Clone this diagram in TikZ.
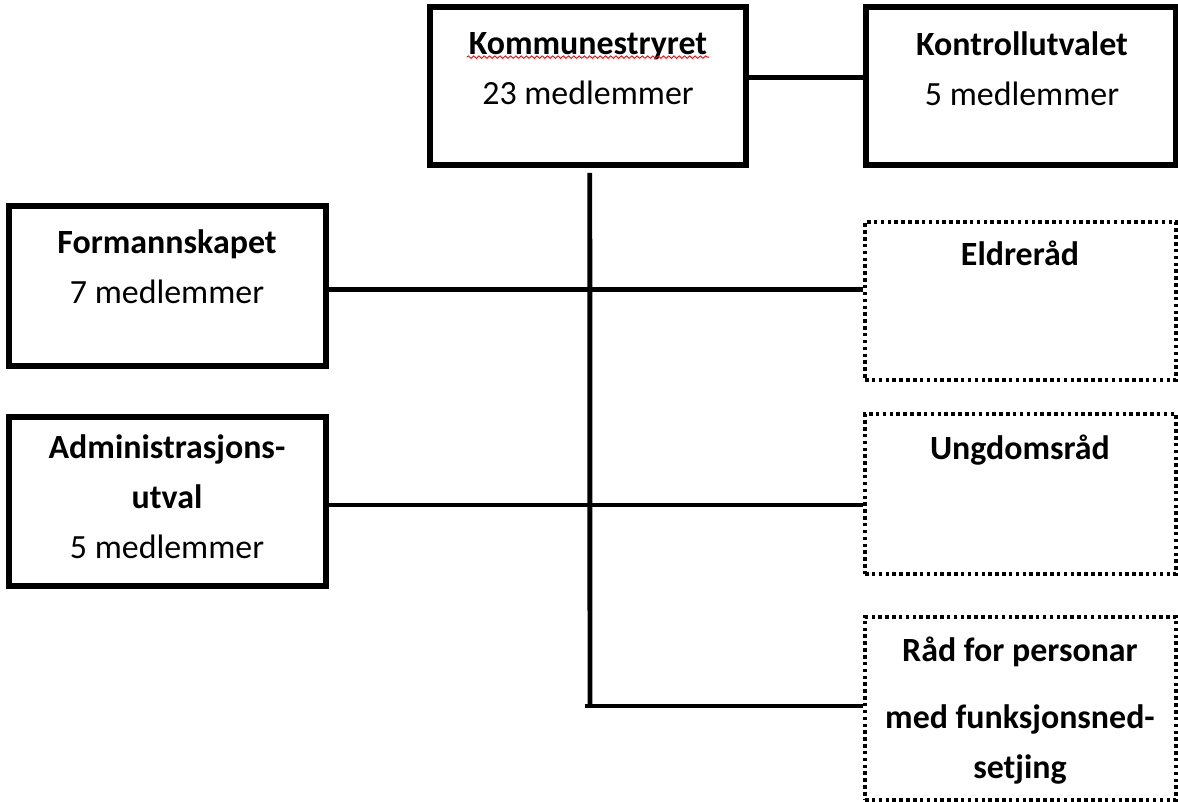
\documentclass[tikz,border=0pt]{standalone}
\usepackage{fontspec}
\setmainfont{Carlito}
\usepackage{tikz}
\usetikzlibrary{positioning, calc, decorations.pathmorphing}
\tikzset{
	fullbox/.style={
			rectangle,
			draw=black,
			line width=3pt,
			fill=white,
			inner sep=0pt
		},
	dotbox/.style={
			fullbox,
			line width=2pt,
			dash pattern=on 2pt off 1.9pt
		},
	boxtext/.style={
			anchor=north,
			align=center,
			inner sep=0pt,
			font=\fontsize{19.3}{28.5}\selectfont
		},
	linkline/.style={
			line width=2.8pt
		}
}

\begin{document}
\begin{tikzpicture}[x=0.02cm, y=-0.02cm]

				\useasboundingbox (0,0) rectangle (1178,802);

				% boxes
				\node[fullbox, minimum width=6.32cm, minimum height=3.16cm] (ks) at (588, 86) {};
				\node[fullbox, minimum width=6.2cm, minimum height=3.16cm] (kt) at (1021, 86) {};
				\node[fullbox, minimum width=6.34cm, minimum height=3.2cm] (fm) at (167.5, 286) {};
				\node[fullbox, minimum width=6.34cm, minimum height=3.38cm] (adm) at (167.5, 501.5) {};
				\node[dotbox, minimum width=6.22cm, minimum height=3.16cm] (eld) at (1020.5, 301) {};
				\node[dotbox, minimum width=6.22cm, minimum height=3.2cm] (ung) at (1020.5, 494) {};
				\node[dotbox, minimum width=6.22cm, minimum height=3.66cm] (raad) at (1020.5, 708.5) {};

				% texts
				\node[boxtext] (kstext) at (588, 32.5) {\textbf{Kommunestryret}\\23 medlemmer};
				\node[boxtext] (kttext) at (1022, 31.5) {\textbf{Kontrollutvalet}\\5 medlemmer};
				\node[boxtext] (fmtext) at (167, 229.5) {\textbf{Formannskapet}\\7 medlemmer};
				\node[boxtext] (admtext) at (167, 434.5) {\textbf{Administrasjons-}\\\textbf{utval}\\5 medlemmer};
				\node[boxtext] (eldtext) at (1020, 241) {\textbf{Eldreråd}};
				\node[boxtext] (ungtext) at (1020, 434.5) {\textbf{Ungdomsråd}};
				\node[boxtext] (raadtext) at (1020, 637) {\textbf{Råd for personar}\\[9.6pt]\textbf{med funksjonsned-}\\\textbf{setjing}};

				\draw[red, line width=0.5pt, decorate, decoration={snake, amplitude=0.7pt, segment length=3pt}]
					([xshift=-69pt, yshift=-14pt]kstext.north) -- ([xshift=69pt, yshift=-14pt]kstext.north);

				% lines
				\coordinate (trunkend) at (590, 706);
				\draw[linkline] ([yshift=5pt]ks.east) -- ([yshift=5pt]kt.west);
				\draw[linkline] ([xshift=1pt, yshift=-3pt]ks.south) -- (trunkend);
				\draw[linkline] ([yshift=-2pt]fm.east) -- ([yshift=-2pt]fm.east -| eld.west);
				\draw[linkline] ([yshift=-2pt]adm.east) -- ([yshift=-2pt]adm.east -| ung.west);
				\draw[linkline] ([xshift=-3pt]trunkend) -- (trunkend -| raad.west);
			\end{tikzpicture}
\end{document}
